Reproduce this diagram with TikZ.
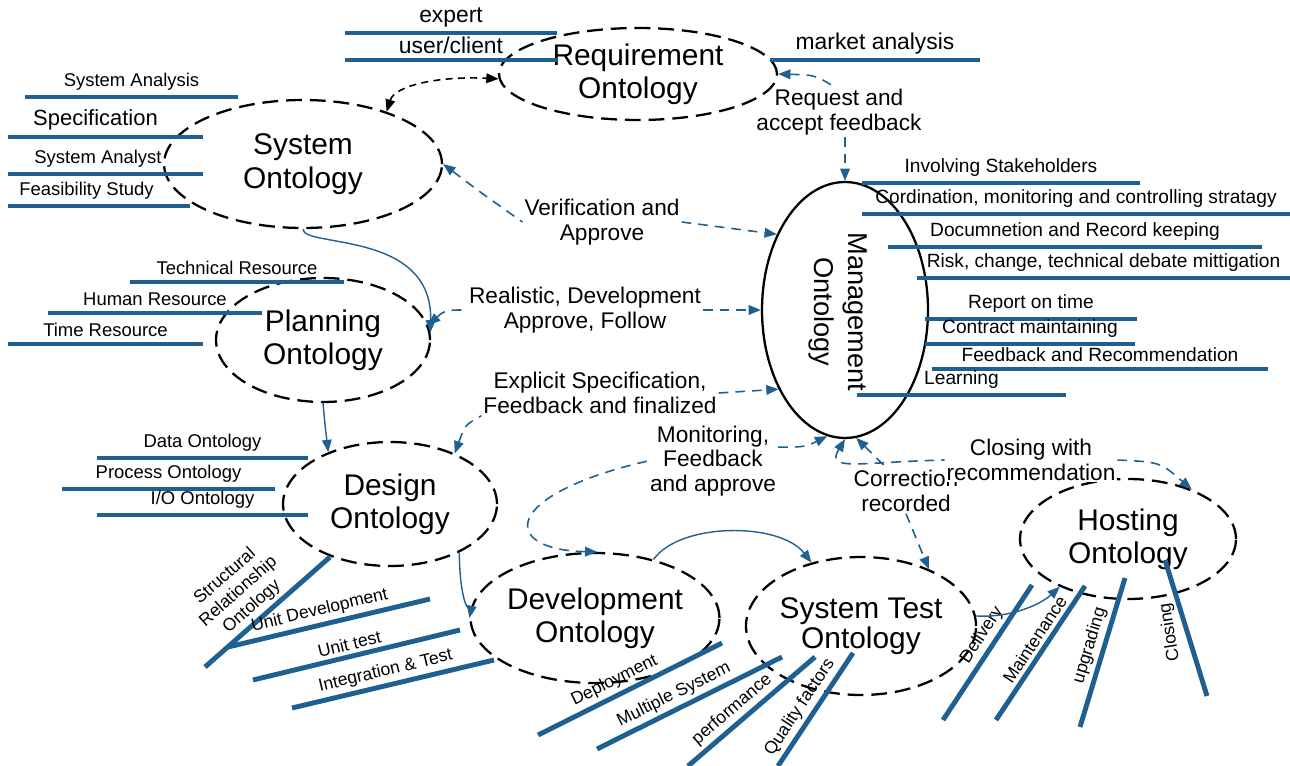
\documentclass[tikz,border=0pt]{standalone}
\usepackage{fontspec}
\setmainfont{Liberation Sans}
\usetikzlibrary{arrows.meta, shapes.geometric}
\definecolor{barblue}{RGB}{31,96,145}

\begin{document}
\begin{tikzpicture}[x=0.02cm, y=-0.02cm, >={Triangle[length=7pt,width=5.5pt]},
    onto/.style={ellipse, draw, line width=1.3pt, dash pattern=on 9pt off 4.5pt, inner sep=0pt, align=center, font=\fontsize{17}{19}\selectfont},
    attr/.style={draw=barblue, line width=2.8pt},
    lbl/.style={font=\fontsize{10.5}{12}\selectfont, inner sep=2.5pt},
    mlbl/.style={font=\fontsize{10.9}{12}\selectfont, inner sep=2.5pt},
    tlbl/.style={font=\fontsize{13}{14}\selectfont, inner sep=2pt},
    slbl/.style={font=\fontsize{10}{11.5}\selectfont, inner sep=2pt, align=center},
    flowlbl/.style={font=\fontsize{12.9}{14}\selectfont, align=center, inner sep=1pt},
    fb/.style={draw=barblue, line width=0.9pt, dash pattern=on 5.5pt off 4pt},
    link/.style={draw=barblue, line width=0.8pt, ->}]
    \useasboundingbox (0,0) rectangle (1290,766);

    % ontologies
    \node[onto, minimum width=5.56cm, minimum height=1.84cm] (req) at (638,74) {Requirement\\Ontology};
    \node[onto, minimum width=5.56cm, minimum height=2.56cm] (sys) at (303,164) {System\\Ontology};
    \node[onto, minimum width=4.28cm, minimum height=2.48cm] (plan) at (323,340) {Planning\\Ontology};
    \node[onto, minimum width=4.28cm, minimum height=2.48cm] (des) at (390,504) {Design\\Ontology};
    \node[onto, minimum width=4.32cm, minimum height=2.6cm] (dev) at (595,618) {Development\\Ontology};
    \node[onto, minimum width=4.36cm, minimum height=2.76cm] (test) at (861,626) {System Test\\[-2pt]Ontology};
    \node[onto, minimum width=4.32cm, minimum height=2.4cm] (host) at (1128,539) {Hosting\\Ontology};
    \node[ellipse, draw, line width=1.3pt, minimum width=3.32cm, minimum height=5.12cm, inner sep=0pt] (mgmt) at (845,310) {};
    \node[rotate=-90, align=center, font=\fontsize{15.5}{19}\selectfont] (mgmttxt) at (838,312) {Management\\Ontology};

    % requirement
    \draw[attr] (345,33) -- node[tlbl, above] (expert) {expert} (557,33);
    \draw[attr] (345,60) -- node[tlbl, above] (client) {user/client} (557,60);
    \draw[attr] (770,60) -- node[tlbl, above] (market) {market analysis} (980,60);

    % system
    \draw[attr] (25,97) -- node[lbl, above] (sysana) {System Analysis} (238,97);
    \draw[attr] (8,137) -- node[lbl, above, font=\fontsize{12.5}{14}\selectfont, xshift=-0.2cm] (spec) {Specification} (203,137);
    \draw[attr] (8,174) -- node[lbl, above, xshift=-0.15cm] (analyst) {System Analyst} (203,174);
    \draw[attr] (8,206) -- node[lbl, above, xshift=-0.25cm] (feas) {Feasibility Study} (190,206);

    % planning
    \draw[attr] (130,282) -- node[lbl, above] (techres) {Technical Resource} (344,282);
    \draw[attr] (48,313) -- node[lbl, above] (humres) {Human Resource} (262,313);
    \draw[attr] (8,344) -- node[lbl, above] (timeres) {Time Resource} (203,344);

    % design
    \draw[attr] (97,458) -- node[lbl, above] (dataont) {Data Ontology} (308,458);
    \draw[attr] (62,489) -- node[lbl, above] (procont) {Process Ontology} (275,489);
    \draw[attr] (97,515) -- node[lbl, above] (ioont) {I/O Ontology} (308,515);
    \draw[attr] (205,667) -- node[slbl, pos=0.45, sloped, above] (structont) {Structural\\Relationship\\Ontology} (330,557);
    \draw[attr] (228,647) -- node[slbl, pos=0.47, sloped, above] (unitdev) {Unit Development} (430,599);
    \draw[attr] (253,680) -- node[slbl, pos=0.48, sloped, above] (unittest) {Unit test} (460,630);
    \draw[attr] (292,708) -- node[slbl, pos=0.48, sloped, above] (integ) {Integration \& Test} (494,660);

    % development and test
    \draw[attr] (538,735) -- node[slbl, pos=0.45, sloped, above] (deploy) {Deployment} (722,643);
    \draw[attr] (597,749) -- node[slbl, pos=0.45, sloped, above] (multi) {Multiple System} (782,657);
    \draw[attr] (688,766) -- node[slbl, pos=0.42, sloped, above] (perf) {performance} (815,657);
    \draw[attr] (778,766) -- node[slbl, pos=0.45, sloped, above] (quality) {Quality factors} (853,653);

    % hosting
    \draw[attr] (943,720) -- node[slbl, pos=0.57, sloped, above] (deliv) {Delivery} (1032,585);
    \draw[attr] (996,720) -- node[slbl, pos=0.55, sloped, above] (maint) {Maintenance} (1085,586);
    \draw[attr] (1080,727) -- node[slbl, pos=0.52, sloped, above] (upgr) {upgrading} (1125,578);
    \draw[attr] (1165,560) -- (1207,696);
    \node[slbl, rotate=99] (closing) at (1170,632) {Closing};

    % management
    \draw[attr] (862,183) -- node[mlbl, above] (stake) {Involving Stakeholders} (1140,183);
    \draw[attr] (862,214) -- node[mlbl, above] (coord) {Cordination, monitoring and controlling stratagy} (1290,214);
    \draw[attr] (888,247) -- node[mlbl, above] (docu) {Documnetion and Record keeping} (1262,247);
    \draw[attr] (917,278) -- node[mlbl, above] (risk) {Risk, change, technical debate mittigation} (1290,278);
    \draw[attr] (925,319) -- node[mlbl, above] (report) {Report on time} (1137,319);
    \draw[attr] (925,344) -- node[mlbl, above] (contract) {Contract maintaining} (1135,344);
    \draw[attr] (932,369) -- node[mlbl, above] (recom) {Feedback and Recommendation} (1268,369);
    \draw[attr] (857,395) -- node[mlbl, above] (learn) {Learning} (1066,395);

    % flow labels
    \node[flowlbl] (lreq) at (839,112) {Request and\\accept feedback};
    \node[flowlbl] (lver) at (602,222) {Verification and\\Approve};
    \node[flowlbl] (lreal) at (585,310) {Realistic, Development\\Approve, Follow};
    \node[flowlbl] (lexp) at (600,393) {Explicit Specification,\\Feedback and finalized};
    \node[flowlbl] (lmon) at (713,461) {Monitoring,\\Feedback\\and approve};
    \node[flowlbl] (lcorr) at (906,491) {Correction\\recorded};
    \node[flowlbl, fill=white] (lclose) at (1031,460) {Closing with\\recommendation};

    % connectors
    \draw[line width=0.9pt, dash pattern=on 4pt off 3pt, <->] (sys.32) .. controls (395,85) and (440,76) .. (req.182);
    \draw[fb, <-] (req.east) .. controls (815,75) .. (lreq.100);
    \draw[fb, ->] (lreq.south -| mgmt.north) -- (mgmt.north);
    \draw[fb, <-] (sys.east) .. controls (480,192) .. (lver.west);
    \draw[fb, ->] (lver.east) -- (mgmt.132);
    \draw[fb, <-] (plan.8) .. controls (445,310) .. (lreal.west);
    \draw[fb, ->] (lreal.east) -- (mgmt.west);
    \draw[fb, <-] (des.38) .. controls (465,425) .. (lexp.south west);
    \draw[fb, ->] (lexp.east) -- (mgmt.230);
    \draw[fb, <-] (dev.88) .. controls (500,550) and (500,495) .. (lmon.west);
    \draw[fb, ->] (lmon.12) .. controls (805,447) .. (mgmt.262);
    \draw[fb, <-] (mgmt.275) -- (lcorr.130);
    \draw[fb, ->] (lcorr.south) -- (test.40);
    \draw[fb, <-] (mgmt.270) .. controls (825,472) and (860,462) .. (lclose.west);
    \draw[fb, ->] (lclose.east) .. controls (1160,462) .. (host.38);

    \draw[link] (sys.south) .. controls (303,248) and (433,230) .. (plan.4);
    \draw[link] (plan.south) .. controls (325,425) .. (des.140);
    \draw[link] (des.325) .. controls (460,605) and (470,615) .. (dev.west);
    \draw[link] (dev.45) .. controls (680,522) and (780,522) .. (test.128);
    \draw[link] (test.5) .. controls (1010,618) and (1040,605) .. (host.215);
\end{tikzpicture}
\end{document}
